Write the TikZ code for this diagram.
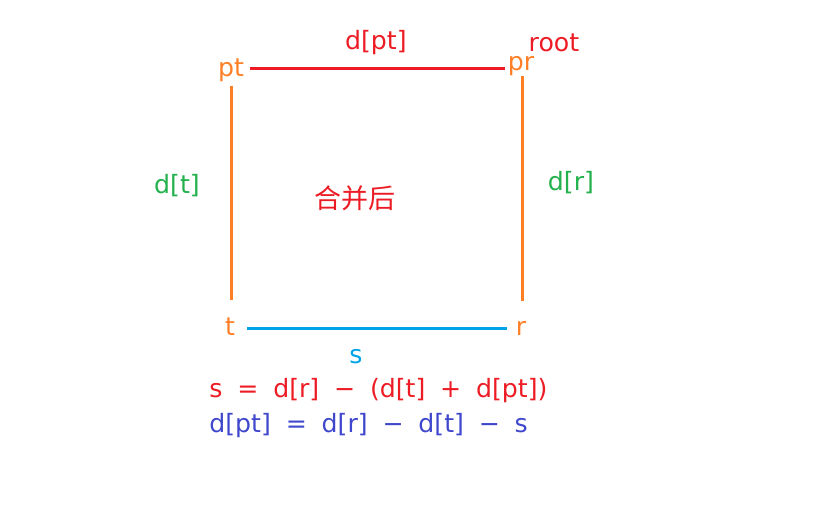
\documentclass[tikz,border=0pt]{standalone}
\usepackage{fontspec}
\setmainfont[WordSpace=1.85]{DejaVu Sans}
\newfontfamily\cjk{Noto Sans CJK SC}
\definecolor{pred}{HTML}{ED1C24}
\definecolor{porange}{HTML}{FF7F27}
\definecolor{pgreen}{HTML}{22B14C}
\definecolor{pblue}{HTML}{00A2E8}
\definecolor{pindigo}{HTML}{3F48CC}

\begin{document}
\begin{tikzpicture}[x=0.5pt,y=-0.5pt,
  every node/.style={font=\fontsize{12.6}{14}\selectfont, inner sep=1pt},
  corner/.style={text=porange},
  edge/.style={line width=1.5pt}]
\useasboundingbox (0,0) rectangle (815,520);
% corners
\node[corner] (pt) at (231,70) {pt};
\node[corner] (pr) at (521,66) {pr};
\node[corner] (t) at (230,327) {t};
\node[corner] (r) at (521,328) {r};
\node[text=pred] (root) at (554,43) {root};
% edges
\draw[edge,pred,shorten <=2pt] ([yshift=1pt]pt.east) -- ([yshift=1pt]pt.east -| pr.west) node[midway,above=5pt] (dpt) {d[pt]};
\draw[edge,porange,shorten <=1pt,shorten >=8pt] (pt.south) -- (pt.south |- t.north);
\draw[edge,porange,shorten <=-1pt,shorten >=9pt] ([xshift=0.5pt]pr.south) -- ([xshift=0.5pt]pr.south |- r.north);
\draw[edge,pblue,shorten <=5pt,shorten >=3pt] ([yshift=-0.5pt]t.east) -- ([yshift=-0.5pt]t.east -| r.west);
\node[text=pgreen] (dt) at (177,186) {d[t]};
\node[text=pgreen] (dr) at (571,183) {d[r]};
\node[text=pred,font=\cjk\fontsize{13.5}{15}\selectfont] (merged) at (355,198) {合并后};
\node[text=pblue] (s) at (356,357) {s};
% formulas
\node[text=pred,anchor=west] (eqa) at (207,391) {s = d[r] − (d[t] + d[pt])};
\node[text=pindigo,anchor=west] (eqb) at (207,426) {d[pt] = d[r] − d[t] − s};
\end{tikzpicture}
\end{document}
